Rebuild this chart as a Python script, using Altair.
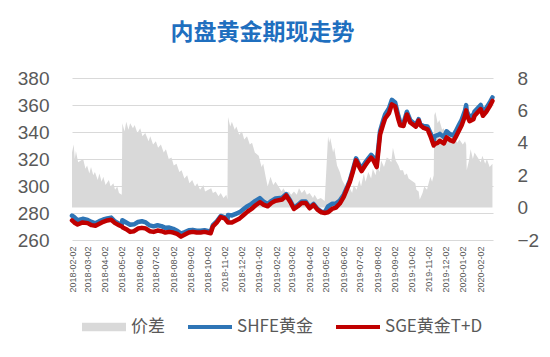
import altair as alt
import pandas as pd

# ---- price series (left axis) ----
dates = [
    "2018-02-02", "2018-02-06", "2018-02-12", "2018-02-21", "2018-03-02", "2018-03-09",
    "2018-03-16", "2018-03-23", "2018-03-30", "2018-04-06", "2018-04-13", "2018-04-20",
    "2018-04-27", "2018-05-02", "2018-05-03", "2018-05-10", "2018-05-17", "2018-05-24",
    "2018-05-31", "2018-06-07", "2018-06-14", "2018-06-21", "2018-06-28", "2018-07-05",
    "2018-07-12", "2018-07-19", "2018-07-26", "2018-08-02", "2018-08-09", "2018-08-16",
    "2018-08-23", "2018-08-30", "2018-09-06", "2018-09-13", "2018-09-20", "2018-09-27",
    "2018-10-08", "2018-10-12", "2018-10-19", "2018-10-26", "2018-11-02", "2018-11-07",
    "2018-11-08", "2018-11-15", "2018-11-22", "2018-11-29", "2018-12-06", "2018-12-13",
    "2018-12-20", "2018-12-27", "2019-01-04", "2019-01-11", "2019-01-18", "2019-01-25",
    "2019-02-01", "2019-02-13", "2019-02-20", "2019-02-27", "2019-03-06", "2019-03-13",
    "2019-03-20", "2019-03-27", "2019-04-03", "2019-04-10", "2019-04-17", "2019-04-24",
    "2019-04-30", "2019-05-06", "2019-05-13", "2019-05-20", "2019-05-27", "2019-06-03",
    "2019-06-10", "2019-06-14", "2019-06-19", "2019-06-25", "2019-07-01", "2019-07-05",
    "2019-07-11", "2019-07-16", "2019-07-22", "2019-07-26", "2019-08-01", "2019-08-07",
    "2019-08-12", "2019-08-16", "2019-08-23", "2019-08-28", "2019-09-03", "2019-09-09",
    "2019-09-12", "2019-09-18", "2019-09-24", "2019-09-30", "2019-10-10", "2019-10-15",
    "2019-10-18", "2019-10-24", "2019-10-31", "2019-11-06", "2019-11-11", "2019-11-12",
    "2019-11-18", "2019-11-22", "2019-11-29", "2019-12-04", "2019-12-10", "2019-12-16",
    "2019-12-20", "2019-12-26", "2019-12-31", "2020-01-06", "2020-01-08", "2020-01-09",
    "2020-01-14", "2020-01-21", "2020-01-23", "2020-02-03", "2020-02-07", "2020-02-13",
    "2020-02-19", "2020-02-24",
]

sge = [
    274.5, 273.0, 271.5, 273.0, 272.5, 271.0, 270.5, 272.0, 273.5, 274.5, 275.0, 272.5,
    271.0, 270.0, 269.5, 268.0, 266.0, 266.5, 268.5, 269.0, 268.5, 266.5, 266.0, 267.0,
    266.5, 265.5, 266.0, 265.5, 264.5, 262.5, 264.0, 265.5, 266.0, 265.5, 265.5, 266.0,
    265.0, 270.0, 273.0, 277.0, 276.0, 273.5, 273.0, 273.0, 274.5, 276.0, 278.5, 281.0,
    283.0, 285.5, 288.0, 286.0, 285.0, 287.5, 289.0, 290.0, 293.0, 288.5, 283.0, 285.0,
    287.5, 287.5, 283.5, 286.0, 282.5, 280.5, 280.0, 280.5, 283.0, 284.0, 287.0, 292.0,
    299.0, 303.0, 310.0, 319.0, 314.0, 311.0, 315.0, 318.0, 321.0, 319.0, 314.0, 338.0,
    345.0, 350.0, 354.0, 360.5, 359.0, 349.0, 345.0, 344.5, 353.0, 347.0, 344.0, 348.5,
    345.0, 343.0, 342.0, 336.0, 330.0, 331.0, 332.0, 333.5, 331.5, 336.0, 334.0, 333.0,
    336.0, 341.0, 345.0, 352.0, 356.0, 353.0, 348.0, 349.5, 352.0, 357.0, 352.0, 355.0,
    359.0, 363.0,
]

shfe = [
    278.1, 276.9, 274.7, 275.7, 274.8, 273.4, 272.4, 274.0, 275.2, 276.0, 276.6, 273.7,
    272.0, 270.8, 274.7, 273.0, 271.3, 271.6, 273.3, 273.9, 273.0, 270.8, 270.1, 270.9,
    270.3, 269.0, 269.2, 268.3, 266.9, 264.7, 265.9, 267.2, 267.5, 266.9, 266.8, 267.2,
    266.1, 271.0, 273.9, 277.8, 276.7, 274.1, 278.6, 278.2, 279.4, 280.6, 282.9, 285.1,
    286.8, 289.0, 291.0, 288.3, 286.6, 289.0, 290.8, 291.3, 294.0, 289.5, 283.9, 286.0,
    288.6, 288.5, 284.3, 286.7, 283.1, 281.0, 280.4, 284.9, 286.8, 287.0, 289.2, 293.6,
    300.1, 304.1, 311.3, 320.5, 315.6, 313.0, 317.2, 319.9, 323.1, 321.3, 316.6, 340.7,
    347.9, 353.0, 357.6, 363.8, 361.8, 351.5, 347.3, 346.6, 355.0, 348.8, 345.4, 349.5,
    345.5, 344.4, 344.0, 338.4, 332.5, 336.7, 337.6, 338.6, 336.2, 340.5, 338.4, 337.3,
    340.2, 345.1, 349.0, 356.0, 359.9, 355.4, 350.9, 353.0, 355.2, 360.0, 354.9, 357.8,
    361.7, 365.6,
]

# ---- spread series (right axis) ----
spread_dates = [
    "2018-02-02", "2018-02-05", "2018-02-07", "2018-02-09", "2018-02-13", "2018-02-22",
    "2018-02-26", "2018-03-01", "2018-03-05", "2018-03-08", "2018-03-12", "2018-03-15",
    "2018-03-20", "2018-03-23", "2018-03-27", "2018-03-30", "2018-04-03", "2018-04-09",
    "2018-04-12", "2018-04-17", "2018-04-20", "2018-04-24", "2018-04-27", "2018-05-02",
    "2018-05-03", "2018-05-07", "2018-05-10", "2018-05-14", "2018-05-17", "2018-05-22",
    "2018-05-25", "2018-05-30", "2018-06-04", "2018-06-08", "2018-06-13", "2018-06-19",
    "2018-06-22", "2018-06-27", "2018-07-02", "2018-07-06", "2018-07-11", "2018-07-16",
    "2018-07-20", "2018-07-25", "2018-07-30", "2018-08-03", "2018-08-08", "2018-08-13",
    "2018-08-17", "2018-08-22", "2018-08-27", "2018-08-31", "2018-09-05", "2018-09-10",
    "2018-09-14", "2018-09-19", "2018-09-25", "2018-09-28", "2018-10-09", "2018-10-12",
    "2018-10-17", "2018-10-22", "2018-10-26", "2018-10-31", "2018-11-05", "2018-11-07",
    "2018-11-08", "2018-11-12", "2018-11-15", "2018-11-20", "2018-11-23", "2018-11-28",
    "2018-12-03", "2018-12-07", "2018-12-12", "2018-12-17", "2018-12-21", "2018-12-26",
    "2019-01-02", "2019-01-07", "2019-01-10", "2019-01-15", "2019-01-18", "2019-01-23",
    "2019-01-28", "2019-02-01", "2019-02-12", "2019-02-15", "2019-02-20", "2019-02-25",
    "2019-03-01", "2019-03-06", "2019-03-11", "2019-03-15", "2019-03-20", "2019-03-25",
    "2019-03-29", "2019-04-03", "2019-04-09", "2019-04-12", "2019-04-17", "2019-04-23",
    "2019-04-30", "2019-05-06", "2019-05-08", "2019-05-10", "2019-05-15", "2019-05-17",
    "2019-05-22", "2019-05-27", "2019-05-31", "2019-06-05", "2019-06-10", "2019-06-14",
    "2019-06-18", "2019-06-21", "2019-06-26", "2019-07-01", "2019-07-04", "2019-07-09",
    "2019-07-12", "2019-07-17", "2019-07-22", "2019-07-25", "2019-07-30", "2019-08-02",
    "2019-08-06", "2019-08-09", "2019-08-14", "2019-08-19", "2019-08-23", "2019-08-27",
    "2019-08-30", "2019-09-04", "2019-09-09", "2019-09-12", "2019-09-17", "2019-09-20",
    "2019-09-24", "2019-09-27", "2019-10-09", "2019-10-11", "2019-10-15", "2019-10-17",
    "2019-10-22", "2019-10-25", "2019-10-30", "2019-11-01", "2019-11-05", "2019-11-08",
    "2019-11-11", "2019-11-12", "2019-11-14", "2019-11-18", "2019-11-21", "2019-11-26",
    "2019-11-29", "2019-12-04", "2019-12-09", "2019-12-13", "2019-12-18", "2019-12-23",
    "2019-12-27", "2020-01-02", "2020-01-06", "2020-01-08", "2020-01-09", "2020-01-13",
    "2020-01-16", "2020-01-20", "2020-01-23", "2020-02-03", "2020-02-06", "2020-02-11",
    "2020-02-14", "2020-02-19", "2020-02-24",
]

spread = [
    3.4, 3.9, 3.0, 3.5, 2.8, 3.0,
    2.4, 2.6, 2.1, 2.5, 2.0, 2.2,
    1.7, 2.1, 1.6, 1.9, 1.4, 1.7,
    1.3, 1.5, 1.1, 1.3, 0.9, 0.8,
    5.2, 4.7, 5.3, 4.8, 5.2, 4.9,
    5.1, 4.6, 4.9, 4.4, 4.6, 4.1,
    4.4, 3.9, 4.1, 3.7, 3.9, 3.4,
    3.6, 3.0, 3.1, 2.6, 2.7, 2.2,
    2.3, 1.8, 2.0, 1.5, 1.7, 1.3,
    1.5, 1.1, 1.4, 1.0, 1.2, 0.9,
    1.0, 0.7, 0.9, 0.6, 0.8, 0.5,
    5.6, 5.0, 5.3, 4.8, 5.0, 4.5,
    4.7, 4.2, 4.4, 3.9, 4.0, 3.4,
    3.2, 2.5, 2.7, 1.8, 1.3, 1.9,
    1.4, 1.6, 1.0, 1.2, 0.9, 1.0,
    0.8, 1.0, 0.8, 1.2, 0.9, 1.1,
    0.8, 0.9, 0.6, 0.8, 0.5, 0.6,
    0.4, 4.4, 4.0, 4.3, 3.4, 3.7,
    2.6, 2.2, 1.7, 1.4, 1.0, 1.2,
    0.9, 1.4, 1.1, 1.7, 1.3, 2.1,
    1.6, 2.2, 1.8, 2.4, 2.0, 2.6,
    2.2, 2.9, 2.5, 3.1, 3.0, 2.8,
    3.7, 2.9, 2.6, 2.3, 2.3, 2.0,
    2.1, 1.8, 1.5, 1.1, 1.0, 0.5,
    0.9, 1.3, 1.1, 1.4, 1.9, 1.6,
    2.0, 5.7, 5.9, 5.2, 5.4, 4.8,
    4.9, 4.4, 4.6, 4.2, 4.4, 4.0,
    4.2, 3.9, 4.1, 3.9, 2.3, 2.9,
    3.6, 3.0, 3.4, 2.8, 3.2, 2.7,
    3.0, 2.5, 2.7,
]

series_names = ["价差", "SHFE黄金", "SGE黄金T+D"]
series_colors = ["#D9D9D9", "#2E75B6", "#C00000"]
left_ticks = [260, 280, 300, 320, 340, 360, 380]
right_ticks = [-2, 0, 2, 4, 6, 8]
month_ticks = [(2018, m) for m in range(2, 13)] + [(2019, m) for m in range(1, 13)] + [(2020, 1), (2020, 2)]

df = pd.DataFrame({"date": dates, "SGE": sge, "SHFE": shfe})
sp_df = pd.DataFrame({"date": spread_dates, "spread": spread})

FONT = "Noto Sans CJK SC"
NUMFONT = "Liberation Sans"
GRAY_TXT = "#595959"

x_enc = alt.X(
    "date:T",
    title=None,
    scale=alt.Scale(
        type="utc",
        domain=[alt.DateTime(year=2018, month=2, date=2, utc=True),
                alt.DateTime(year=2020, month=2, date=25, utc=True)],
    ),
    axis=alt.Axis(
        values=[alt.DateTime(year=y, month=m, date=2, utc=True) for y, m in month_ticks],
        labelExpr="utcFormat(datum.value, '%Y-%m-%d')", labelAngle=-90, labelFontSize=9,
        labelFont=NUMFONT, labelColor=GRAY_TXT, labelPadding=6, domain=False, ticks=False,
        grid=False, labelOverlap=False,
    ),
)

area = alt.Chart(sp_df).mark_area(color="#D9D9D9", interpolate="linear").encode(
    x=x_enc,
    y=alt.Y(
        "spread:Q", title=None,
        scale=alt.Scale(domain=[-2, 8], nice=False, zero=False),
        axis=alt.Axis(orient="right", values=right_ticks, grid=False, domain=False, ticks=False,
                      labelFontSize=19, labelFont=NUMFONT, labelColor=GRAY_TXT, labelPadding=24),
    ),
    y2=alt.datum(0),
)

left_axis = alt.Axis(orient="left", values=left_ticks, grid=True, gridColor="#D9D9D9", gridWidth=1,
                     domain=False, ticks=False, labelFontSize=19, labelFont=NUMFONT,
                     labelColor=GRAY_TXT, labelPadding=23)
left_scale = alt.Scale(domain=[260, 380], nice=False, zero=False)

blue = alt.Chart(df).mark_line(color="#2E75B6", strokeWidth=4.5, strokeJoin="round", strokeCap="round").encode(
    x=x_enc, y=alt.Y("SHFE:Q", title=None, scale=left_scale, axis=left_axis)
)
red = alt.Chart(df).mark_line(color="#C00000", strokeWidth=4.5, strokeJoin="round", strokeCap="round").encode(
    x=x_enc, y=alt.Y("SGE:Q", title=None, scale=left_scale, axis=left_axis)
)

leg_df = pd.DataFrame({"series": series_names})
paths = [
    "M-1,-0.19L1,-0.19L1,0.19L-1,0.19Z",
    "M-1,-0.09L1,-0.09L1,0.09L-1,0.09Z",
    "M-1,-0.09L1,-0.09L1,0.09L-1,0.09Z",
]
leg_props = dict(
    title=None, orient="none", legendX=10, legendY=227, direction="horizontal",
    labelFont=FONT, labelFontSize=17, labelColor=GRAY_TXT, labelOffset=5,
    columnPadding=23, symbolSize=1936, symbolStrokeWidth=0, labelLimit=200,
)
legend_layer = alt.Chart(leg_df).mark_point(filled=True, opacity=1, size=1936).encode(
    color=alt.Color("series:N", scale=alt.Scale(domain=series_names, range=series_colors),
                    legend=alt.Legend(**leg_props)),
    shape=alt.Shape("series:N", scale=alt.Scale(domain=series_names, range=paths),
                    legend=alt.Legend(**leg_props)),
).transform_filter("false")

lines = alt.layer(blue, red)

chart = alt.layer(area, lines, legend_layer).resolve_scale(y="independent").properties(
    width=421, height=162,
    title=alt.Title("内盘黄金期现走势", font=FONT, fontSize=23, fontWeight="bold",
                    color="#1F6FBF", anchor="middle", offset=24, dx=-20),
    autosize=alt.AutoSizeParams(type="none"),
    padding={"left": 64, "top": 70, "right": 48, "bottom": 100},
    background="white",
).configure_view(stroke=None)

chart.save("out.html", embed_options={"renderer": "svg", "actions": False})
